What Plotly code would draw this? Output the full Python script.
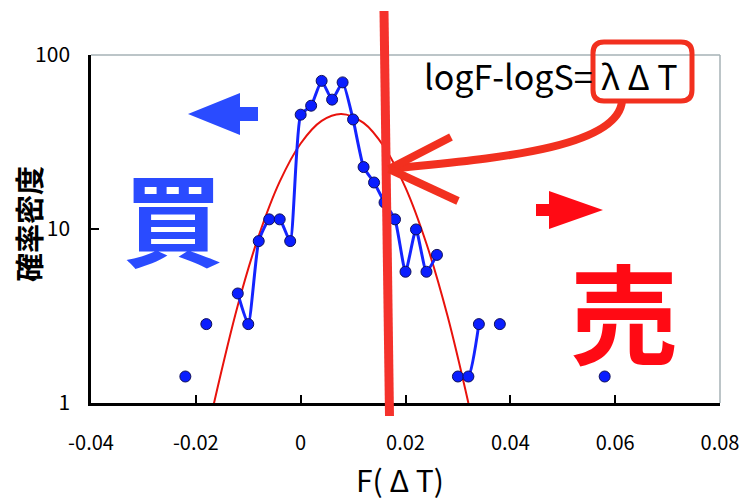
import plotly.graph_objects as go

# ---------------- data ----------------
bin_x = [-0.022, -0.020, -0.018, -0.016, -0.012, -0.010, -0.008, -0.006, -0.004, -0.002,
         0.000, 0.002, 0.004, 0.006, 0.008, 0.010, 0.012, 0.014, 0.016, 0.018,
         0.020, 0.022, 0.024, 0.026, 0.028, 0.030, 0.032, 0.034, 0.036, 0.038,
         0.040, 0.058]
density = [1.42, None, 2.84, None, 4.26, 2.84, 8.52, 11.36, 11.36, 8.52,
           45.4, 51.1, 71.0, 55.4, 69.6, 42.6, 22.7, 18.5, 14.2, 11.36,
           5.68, 9.94, 5.68, 7.10, None, 1.42, 1.42, 2.84, None, 2.84,
           None, 1.42]

fit_x = [-0.0167, -0.012, -0.008, -0.004, 0.000, 0.004, 0.00775, 0.012, 0.016, 0.020, 0.024, 0.028, 0.032]
fit_y = [0.95, 3.63, 9.13, 18.7, 31.0, 41.8, 45.8, 40.7, 29.4, 17.3, 8.22, 3.18, 1.0]

x_ticks = [-0.04, -0.02, 0, 0.02, 0.04, 0.06, 0.08]
x_tick_text = ["-0.04", "-0.02", "0", "0.02", "0.04", "0.06", "0.08"]
y_ticks = [1, 10, 100]
y_tick_text = ["1", "10", "100"]

# ---------------- layout geometry (pixels) ----------------
W, H = 745, 504
L, R, T, B = 91, 25, 55, 101
PW, PH = W - L - R, H - T - B


def px(x):
    return (x - L) / PW


def py(y):
    return (H - B - y) / PH


def P(x, y):
    return f"{px(x):.5f},{py(y):.5f}"


FONT = "Noto Sans CJK JP"
RED = "#f2301f"

fig = go.Figure()

fig.add_trace(go.Scatter(
    x=fit_x, y=fit_y, mode="lines",
    line=dict(color="#e8120c", width=2, shape="spline", smoothing=1.0),
    hoverinfo="skip", showlegend=False))

fig.add_trace(go.Scatter(
    x=bin_x, y=density, mode="lines+markers", connectgaps=False,
    line=dict(color="#1424ff", width=3, shape="spline", smoothing=0.5),
    marker=dict(color="#0a1eff", size=11, line=dict(color="#10105a", width=1)),
    showlegend=False))

shapes = []
# gray frame (top, right)
shapes.append(dict(type="line", xref="paper", yref="paper", x0=0, x1=1, y0=1, y1=1,
                   line=dict(color="#a6b2b6", width=1.5), layer="below"))
shapes.append(dict(type="line", xref="paper", yref="paper", x0=1, x1=1, y0=0, y1=1,
                   line=dict(color="#a6b2b6", width=1.5), layer="below"))
# thick red vertical line
shapes.append(dict(type="line", xref="paper", yref="paper",
                   x0=px(384), y0=py(11), x1=px(389.5), y1=py(416),
                   line=dict(color="#f5322c", width=9)))
# rounded box around λΔT
bx0, by0, bx1, by1, r = 593, 42, 692, 101, 11
box = (f"M {P(bx0 + r, by0)} L {P(bx1 - r, by0)} Q {P(bx1, by0)} {P(bx1, by0 + r)} "
       f"L {P(bx1, by1 - r)} Q {P(bx1, by1)} {P(bx1 - r, by1)} "
       f"L {P(bx0 + r, by1)} Q {P(bx0, by1)} {P(bx0, by1 - r)} "
       f"L {P(bx0, by0 + r)} Q {P(bx0, by0)} {P(bx0 + r, by0)} Z")
shapes.append(dict(type="path", xref="paper", yref="paper", path=box,
                   line=dict(color=RED, width=5)))
# curved arrow
curve = f"M {P(622, 101)} C {P(618, 152)} {P(470, 160)} {P(389, 169)}"
shapes.append(dict(type="path", xref="paper", yref="paper", path=curve,
                   line=dict(color=RED, width=8)))
shapes.append(dict(type="line", xref="paper", yref="paper",
                   x0=px(389), y0=py(169), x1=px(451), y1=py(137),
                   line=dict(color=RED, width=8)))
shapes.append(dict(type="line", xref="paper", yref="paper",
                   x0=px(389), y0=py(169), x1=px(458), y1=py(201),
                   line=dict(color=RED, width=8)))
# blue left arrow
blue_arrow = (f"M {P(188, 114)} L {P(240, 93)} L {P(240, 107)} L {P(258, 107)} "
              f"L {P(258, 121)} L {P(240, 121)} L {P(240, 135)} Z")
shapes.append(dict(type="path", xref="paper", yref="paper", path=blue_arrow,
                   fillcolor="#2a4bff", line=dict(width=0)))
# red right arrow
red_arrow = (f"M {P(603, 210)} L {P(549, 191)} L {P(549, 204)} L {P(536, 204)} "
             f"L {P(536, 216)} L {P(549, 216)} L {P(549, 229)} Z")
shapes.append(dict(type="path", xref="paper", yref="paper", path=red_arrow,
                   fillcolor="#ff0a14", line=dict(width=0)))

annotations = [
    dict(text="logF-logS=", xref="paper", yref="paper", x=px(595), y=py(76),
         xanchor="right", yanchor="middle", showarrow=False,
         font=dict(family=FONT, size=34, color="black")),
    dict(text="λ Δ T", xref="paper", yref="paper", x=px(639), y=py(76),
         xanchor="center", yanchor="middle", showarrow=False,
         font=dict(family=FONT, size=34, color="black")),
    dict(text="買", xref="paper", yref="paper", x=px(173), y=py(215),
         xanchor="center", yanchor="middle", showarrow=False,
         font=dict(family=FONT, size=100, color="#2a4bff", weight="bold")),
    dict(text="売", xref="paper", yref="paper", x=px(624), y=py(309),
         xanchor="center", yanchor="middle", showarrow=False,
         font=dict(family=FONT, size=108, color="#ff0a14", weight="bold")),
    dict(text="F( Δ T)", xref="paper", yref="paper", x=px(400), y=py(479),
         xanchor="center", yanchor="middle", showarrow=False,
         font=dict(family=FONT, size=30, color="black")),
    dict(text="確率密度", xref="paper", yref="paper", x=px(28), y=py(224),
         xanchor="center", yanchor="middle", showarrow=False, textangle=-90,
         font=dict(family=FONT, size=29, color="black", weight="bold")),
]

fig.update_layout(
    width=W, height=H,
    margin=dict(l=L, r=R, t=T, b=B, pad=0, autoexpand=False),
    paper_bgcolor="white", plot_bgcolor="white",
    shapes=shapes, annotations=annotations,
    showlegend=False,
    font=dict(family=FONT, color="black"),
)
fig.update_xaxes(
    range=[-0.04, 0.08], tickvals=x_ticks, ticktext=x_tick_text, automargin=False,
    showgrid=False, zeroline=False, showline=True, linecolor="black", linewidth=2.5,
    ticks="inside", ticklen=8, tickwidth=2, tickcolor="black",
    tickfont=dict(family=FONT, size=20, color="black"), ticklabelstandoff=20,
)
fig.update_yaxes(
    type="log", range=[0, 2], tickvals=y_ticks, ticktext=y_tick_text, automargin=False,
    showgrid=False, zeroline=False, showline=True, linecolor="black", linewidth=2.5,
    ticks="inside", ticklen=8, tickwidth=2, tickcolor="black",
    tickfont=dict(family=FONT, size=21, color="black"), ticklabelstandoff=14,
)

fig.write_html("out.html")
